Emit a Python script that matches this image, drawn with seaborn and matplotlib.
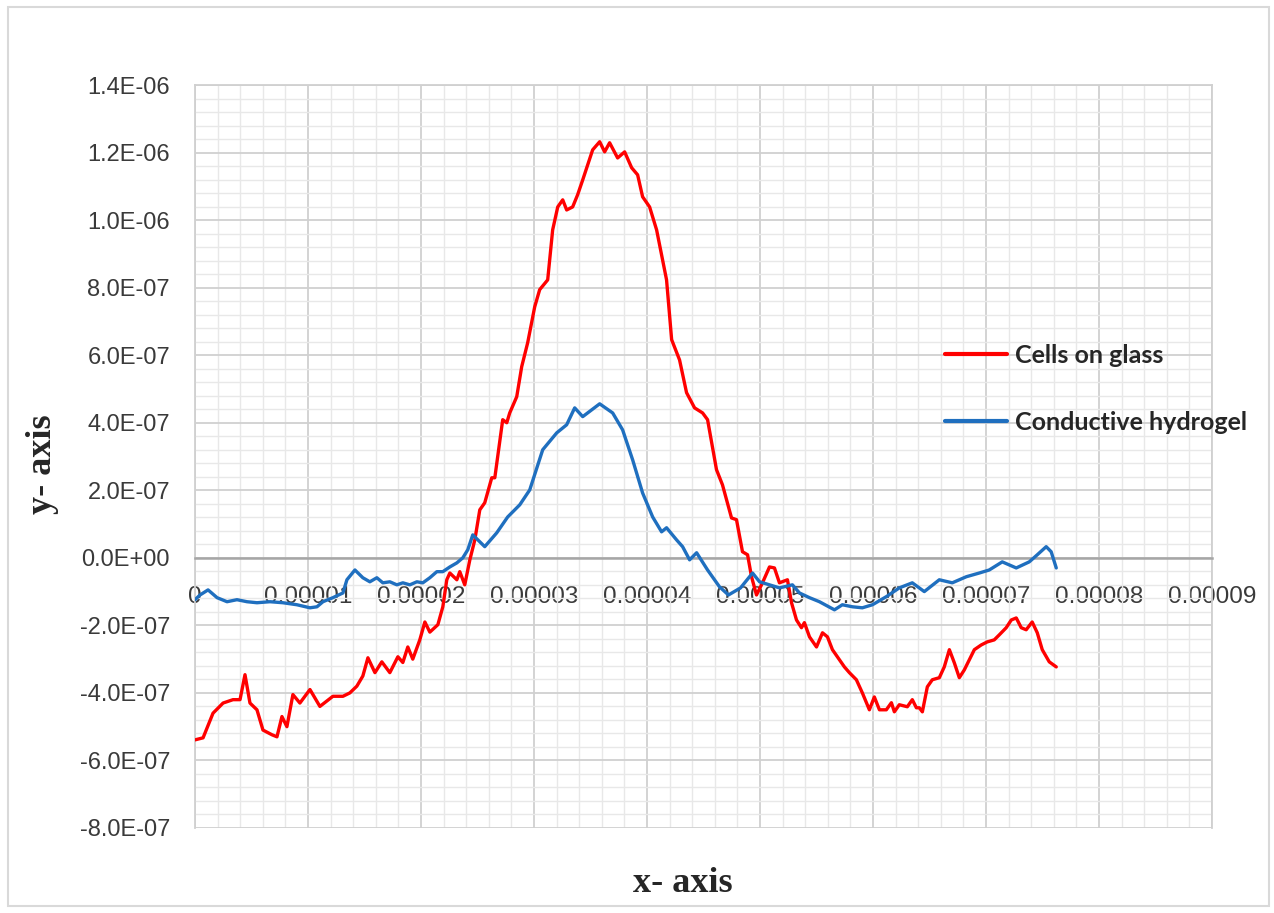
import numpy as np
import pandas as pd
import seaborn as sns
import matplotlib
matplotlib.use("Agg")
import matplotlib.pyplot as plt
from matplotlib.ticker import MultipleLocator, FuncFormatter
from matplotlib.patches import Rectangle

# ---------------- data (x in micro-units of 1e-6, y in units of 1e-7) ----------------
red_x_um = [0.0, 0.71, 1.59, 2.48, 3.36, 3.98, 4.42, 4.86, 5.48, 6.01, 6.81, 7.25, 7.69, 8.13,
            8.66, 9.28, 10.17, 11.05, 12.20, 13.09, 13.70, 14.32, 14.85, 15.30, 15.92, 16.53,
            17.24, 17.95, 18.39, 18.83, 19.27, 19.89, 20.34, 20.78, 21.49, 21.93, 22.28, 22.55,
            23.17, 23.43, 23.87, 24.32, 24.76, 25.20, 25.64, 26.26, 26.53, 27.23, 27.59, 27.85,
            28.47, 28.91, 29.44, 30.06, 30.50, 31.21, 31.65, 32.10, 32.54, 32.89, 33.42, 33.86,
            34.31, 35.19, 35.81, 36.25, 36.69, 37.40, 38.02, 38.64, 39.17, 39.61, 40.23, 40.85,
            41.73, 42.18, 42.88, 43.50, 44.21, 44.92, 45.36, 46.15, 46.68, 47.48, 47.92, 48.45,
            48.90, 49.25, 49.69, 50.22, 50.84, 51.28, 51.72, 52.43, 52.79, 53.23, 53.67, 53.93,
            54.38, 55.00, 55.53, 55.97, 56.41, 57.03, 57.47, 57.91, 58.53, 59.06, 59.68, 60.12,
            60.57, 61.18, 61.63, 61.89, 62.33, 63.04, 63.48, 63.84, 64.10, 64.37, 64.81, 65.25,
            65.87, 66.31, 66.76, 67.20, 67.64, 68.08, 68.52, 68.97, 69.58, 70.11, 70.73, 71.18,
            71.79, 72.24, 72.68, 73.12, 73.56, 74.09, 74.54, 74.98, 75.60, 76.22]
red_y_e7 = [-5.39, -5.33, -4.6, -4.3, -4.2, -4.2, -3.46, -4.3, -4.5, -5.1, -5.24, -5.3, -4.7, -5.0,
            -4.05, -4.3, -3.9, -4.4, -4.1, -4.1, -4.0, -3.8, -3.5, -2.96, -3.4, -3.08,
            -3.4, -2.93, -3.1, -2.64, -3.0, -2.43, -1.9, -2.2, -1.98, -1.45, -0.65, -0.45,
            -0.65, -0.41, -0.8, -0.06, 0.53, 1.42, 1.63, 2.37, 2.37, 4.09, 4.0, 4.29,
            4.77, 5.66, 6.37, 7.43, 7.94, 8.23, 9.71, 10.39, 10.6, 10.3, 10.39, 10.75,
            11.19, 12.08, 12.32, 12.02, 12.29, 11.84, 12.02, 11.55, 11.34, 10.69, 10.39, 9.71,
            8.23, 6.46, 5.86, 4.89, 4.44, 4.29, 4.09, 2.61, 2.16, 1.18, 1.13, 0.18,
            0.09, -0.56, -1.1, -0.74, -0.27, -0.3, -0.74, -0.65, -1.33, -1.84, -2.07, -1.92,
            -2.34, -2.64, -2.22, -2.34, -2.72, -3.02, -3.23, -3.4, -3.61, -4.0, -4.5, -4.12,
            -4.5, -4.5, -4.29, -4.56, -4.35, -4.41, -4.2, -4.44, -4.44, -4.56, -3.82, -3.61,
            -3.55, -3.23, -2.72, -3.11, -3.55, -3.32, -3.02, -2.72, -2.58, -2.49, -2.43, -2.28,
            -2.07, -1.84, -1.78, -2.07, -2.13, -1.9, -2.22, -2.72, -3.08, -3.23]

blue_x_um = [0.0, 0.44, 1.15, 1.95, 2.83, 3.71, 4.60, 5.48, 6.63, 7.78, 9.02, 10.17, 10.79, 11.32,
             12.20, 13.09, 13.44, 14.15, 14.85, 15.47, 16.09, 16.62, 17.24, 17.86, 18.39, 19.01,
             19.63, 20.16, 20.78, 21.40, 21.93, 22.55, 23.17, 23.70, 24.14, 24.58, 25.64, 26.70,
             27.67, 28.74, 29.62, 30.77, 32.01, 32.89, 33.60, 34.31, 35.81, 36.96, 37.84, 38.73,
             39.61, 40.50, 41.29, 41.73, 42.62, 43.15, 43.77, 44.39, 45.36, 46.42, 47.21, 48.28,
             49.34, 49.96, 50.84, 51.72, 52.87, 53.49, 54.38, 55.26, 56.59, 57.29, 58.18, 59.06,
             59.95, 61.18, 62.33, 63.48, 64.54, 65.87, 67.02, 68.26, 69.41, 70.29, 71.44, 72.68,
             73.83, 74.54, 75.33, 75.77, 76.22]
blue_y_e7 = [-1.24, -1.1, -0.95, -1.18, -1.3, -1.24, -1.3, -1.33, -1.3, -1.33, -1.39, -1.48, -1.45, -1.3,
             -1.18, -1.04, -0.65, -0.36, -0.59, -0.71, -0.59, -0.74, -0.71, -0.8, -0.74, -0.8,
             -0.71, -0.74, -0.59, -0.41, -0.41, -0.27, -0.15, 0.0, 0.24, 0.68, 0.33, 0.74,
             1.21, 1.57, 2.01, 3.2, 3.7, 3.94, 4.44, 4.18, 4.56, 4.29, 3.79, 2.9,
             1.92, 1.21, 0.77, 0.89, 0.53, 0.33, -0.06, 0.15, -0.36, -0.86, -1.1, -0.89,
             -0.45, -0.71, -0.8, -0.89, -0.8, -1.04, -1.18, -1.3, -1.54, -1.39, -1.45, -1.48,
             -1.39, -1.15, -0.89, -0.74, -1.0, -0.65, -0.74, -0.56, -0.45, -0.36, -0.12, -0.3,
             -0.12, 0.09, 0.33, 0.18, -0.3]

series_names = ["Cells on glass", "Conductive hydrogel"]
series_colors = ["#ff0000", "#1f6fbf"]

x_ticks = [i * 1e-5 for i in range(10)]
y_ticks = [round(-8e-7 + i * 2e-7, 13) for i in range(12)]

# ---------------- build table ----------------
df = pd.concat([
    pd.DataFrame({"x": np.array(red_x_um) * 1e-6, "y": np.array(red_y_e7) * 1e-7,
                  "series": series_names[0]}),
    pd.DataFrame({"x": np.array(blue_x_um) * 1e-6, "y": np.array(blue_y_e7) * 1e-7,
                  "series": series_names[1]}),
], ignore_index=True)

sns.set_theme(style="white")
plt.rcParams["font.family"] = ["Liberation Sans", "DejaVu Sans"]

fig = plt.figure(figsize=(12.74, 9.13), dpi=100)
ax = fig.add_axes([0.1531, 0.0931, 0.7982, 0.8138])

# outer chart border
fig.patches.append(Rectangle((0.006, 0.008), 0.990, 0.984, transform=fig.transFigure,
                             fill=False, edgecolor="#d9d9d9", linewidth=1.5, zorder=0))

sns.lineplot(data=df, x="x", y="y", hue="series", hue_order=series_names,
             palette=dict(zip(series_names, series_colors)), estimator=None,
             sort=False, linewidth=2.4, ax=ax, legend=True, zorder=5)

ax.set_xlim(0, 9e-5)
ax.set_ylim(-8e-7, 1.4e-6)
ax.set_xticks(x_ticks)
ax.set_yticks(y_ticks)
ax.xaxis.set_minor_locator(MultipleLocator(2e-6))
ax.yaxis.set_minor_locator(MultipleLocator(4e-8))

ax.xaxis.set_major_formatter(FuncFormatter(lambda v, p: "0" if abs(v) < 1e-12 else f"{v:.5f}"))
ax.yaxis.set_major_formatter(FuncFormatter(lambda v, p: f"{v:.1E}" if abs(v) > 1e-12 else "0.0E+00"))

ax.grid(True, which="major", color="#d0d0d0", linewidth=1.3, zorder=0)
ax.grid(True, which="minor", color="#e8e8e8", linewidth=1.0, zorder=0)
ax.set_axisbelow(True)

for side in ["left", "right", "top"]:
    ax.spines[side].set_visible(True)
    ax.spines[side].set_color("#d0d0d0")
    ax.spines[side].set_linewidth(1.3)
ax.spines["bottom"].set_position(("data", 0))
ax.spines["bottom"].set_color("#a6a6a6")
ax.spines["bottom"].set_linewidth(1.8)

ax.tick_params(axis="both", which="both", length=0)
ax.tick_params(axis="x", pad=20, labelsize=17.5, labelcolor="#3a3a3a")
ax.tick_params(axis="y", pad=18, labelsize=17, labelcolor="#3a3a3a")

ax.set_xlabel("x- axis", fontsize=26, fontweight="bold", family=["Liberation Serif"], labelpad=0)
ax.set_ylabel("y- axis", fontsize=26, fontweight="bold", family=["Liberation Serif"], labelpad=18)
ax.xaxis.set_label_coords(0.48, -0.053)
ax.yaxis.set_label_coords(-0.134, 0.49)

leg = ax.legend(loc="center left", bbox_to_anchor=(0.737, 0.591), frameon=False,
                borderaxespad=0, borderpad=0, handlelength=2.5, handletextpad=0.3,
                labelspacing=1.75, prop={"family": "Lato", "weight": "bold", "size": 18})
for line in leg.get_lines():
    line.set_linewidth(3)

fig.savefig("out.png", dpi=100, facecolor="white")
